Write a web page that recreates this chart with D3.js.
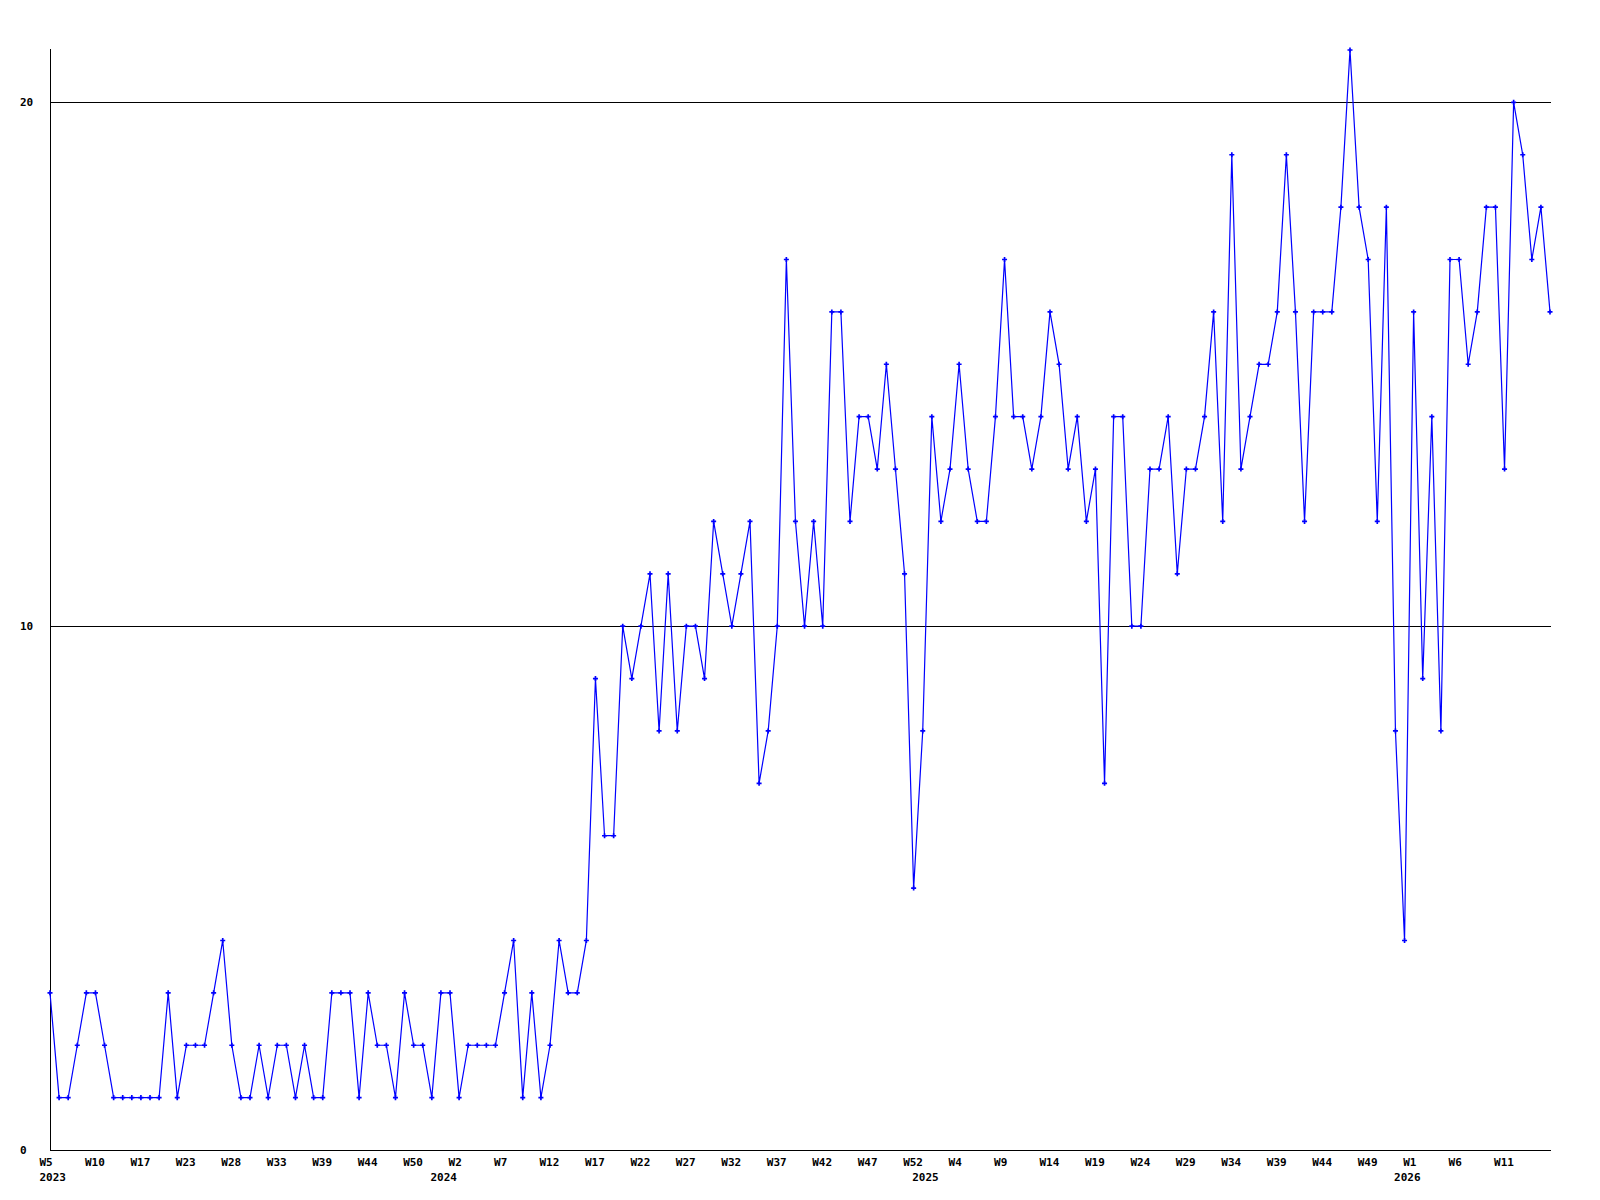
<!DOCTYPE html>
<html>
<head>
<meta charset="utf-8">
<script src="https://cdn.jsdelivr.net/npm/d3@7"></script>
<style>
  body { margin: 0; background: #fff; }
  text { font-family: "DejaVu Sans Mono", monospace; font-size: 11px; font-weight: bold; fill: #000; }
</style>
</head>
<body>
<div id="chart"></div>
<script>
// one value per weekly sample, oldest first
const values = [
    3, 1, 1, 2, 3, 3, 2, 1, 1, 1,
    1, 1, 1, 3, 1, 2, 2, 2, 3, 4,
    2, 1, 1, 2, 1, 2, 2, 1, 2, 1,
    1, 3, 3, 3, 1, 3, 2, 2, 1, 3,
    2, 2, 1, 3, 3, 1, 2, 2, 2, 2,
    3, 4, 1, 3, 1, 2, 4, 3, 3, 4,
    9, 6, 6, 10, 9, 10, 11, 8, 11, 8,
    10, 10, 9, 12, 11, 10, 11, 12, 7, 8,
    10, 17, 12, 10, 12, 10, 16, 16, 12, 14,
    14, 13, 15, 13, 11, 5, 8, 14, 12, 13,
    15, 13, 12, 12, 14, 17, 14, 14, 13, 14,
    16, 15, 13, 14, 12, 13, 7, 14, 14, 10,
    10, 13, 13, 14, 11, 13, 13, 14, 16, 12,
    19, 13, 14, 15, 15, 16, 19, 16, 12, 16,
    16, 16, 18, 21, 18, 17, 12, 18, 8, 4,
    16, 9, 14, 8, 17, 17, 15, 16, 18, 18,
    13, 20, 19, 17, 18, 16
];

// a week label every 5th sample
const weekLabels = ["W5", "W10", "W17", "W23", "W28", "W33", "W39", "W44", "W50",
    "W2", "W7", "W12", "W17", "W22", "W27", "W32", "W37", "W42", "W47", "W52",
    "W4", "W9", "W14", "W19", "W24", "W29", "W34", "W39", "W44", "W49",
    "W1", "W6", "W11"];
const weekStep = 5;

const years = ["2023", "2024", "2025", "2026"];
const yearIndex = [0, 43, 96, 149];

const yTicks = [0, 10, 20];
const yMax = 21;

const width = 1600, height = 1200;
const plot = { left: 50, right: 1550, top: 50, bottom: 1150 };

const svg = d3.select("#chart")
    .append("svg")
    .attr("width", width)
    .attr("height", height);

const x = d3.scaleLinear()
    .domain([0, values.length - 1])
    .range([plot.left, plot.right]);

const y = d3.scaleLinear()
    .domain([0, yMax])
    .range([plot.bottom, plot.top]);

// grid lines
svg.selectAll(".grid")
    .data(yTicks.filter(d => d > 0))
    .enter().append("line")
    .attr("x1", plot.left)
    .attr("x2", plot.right + 1)
    .attr("y1", d => Math.round(y(d)) + 0.5)
    .attr("y2", d => Math.round(y(d)) + 0.5)
    .attr("stroke", "#000")
    .attr("stroke-width", 1);

// axes
svg.append("line")
    .attr("x1", plot.left + 0.5).attr("x2", plot.left + 0.5)
    .attr("y1", plot.top - 1).attr("y2", plot.bottom + 0.5)
    .attr("stroke", "#000");

svg.append("line")
    .attr("x1", plot.left).attr("x2", plot.right + 1)
    .attr("y1", plot.bottom + 0.5).attr("y2", plot.bottom + 0.5)
    .attr("stroke", "#000");

svg.selectAll(".ylab")
    .data(yTicks)
    .enter().append("text")
    .attr("x", 20)
    .attr("y", d => y(d) + 4)
    .text(d => d);

svg.selectAll(".xlab")
    .data(weekLabels)
    .enter().append("text")
    .attr("x", (d, i) => x(i * weekStep) - 10.5)
    .attr("y", 1165.5)
    .text(d => d);

svg.selectAll(".year")
    .data(years)
    .enter().append("text")
    .attr("x", (d, i) => x(yearIndex[i]) - 10.5)
    .attr("y", 1181)
    .text(d => d);

// data line and markers
const line = d3.line()
    .x((d, i) => x(i))
    .y(d => y(d));

svg.append("path")
    .datum(values)
    .attr("d", line)
    .attr("fill", "none")
    .attr("stroke", "#0000ff")
    .attr("stroke-width", 1.2);

svg.selectAll(".pt")
    .data(values)
    .enter().append("path")
    .attr("transform", (d, i) => `translate(${x(i)},${y(d)})`)
    .attr("d", d3.symbol(d3.symbolCross).size(14))
    .attr("fill", "#0000ff");
</script>
</body>
</html>
